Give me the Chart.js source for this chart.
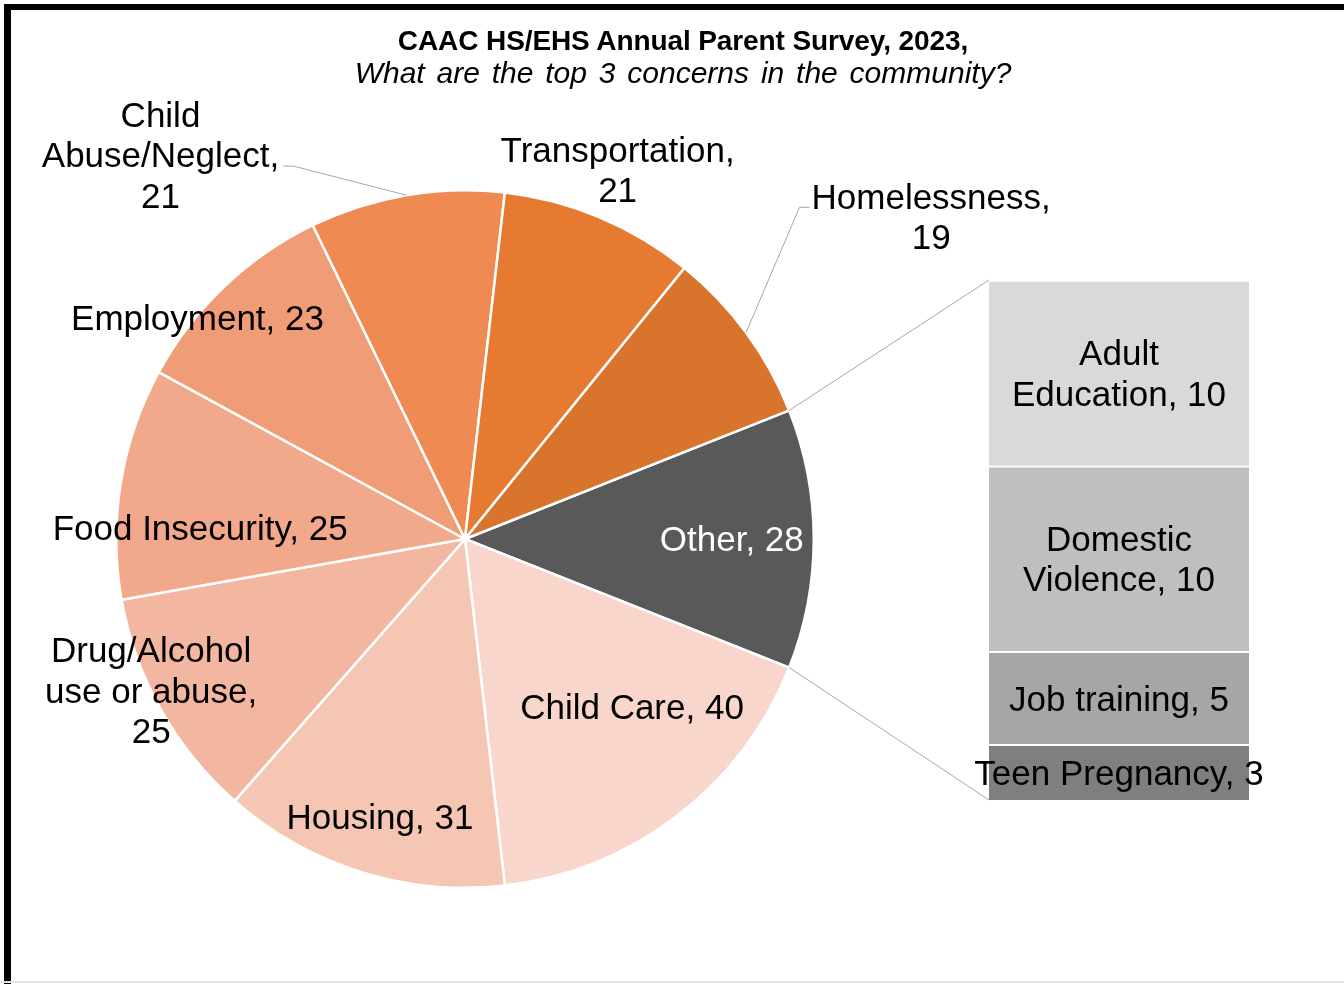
<!DOCTYPE html>
<html>
<head>
<meta charset="utf-8">
<script src="https://cdn.jsdelivr.net/npm/chart.js@4.4.1/dist/chart.umd.min.js"></script>
<style>
  html, body { margin: 0; padding: 0; background: #fff; overflow: hidden; }
  #frame { position: absolute; left: 4px; top: 4px; width: 1340px; height: 980px;
           border-top: 6px solid #000; border-left: 7px solid #000; box-sizing: border-box; }
  #floor { position: absolute; left: 0; top: 981px; width: 1344px; height: 2px; background: #e4e4e4; }
  canvas { position: absolute; left: 0; top: 0; }
  .title { position: absolute; left: 0; width: 1366px; text-align: center;
           font-family: "Liberation Sans", Arial, sans-serif; color: #000; white-space: nowrap; }
  #t1 { top: 25px; font-size: 28px; font-weight: bold; line-height: 32px; letter-spacing: -0.1px; }
  #t2 { top: 56px; font-size: 30px; font-style: italic; line-height: 34px; word-spacing: 3.5px; }
</style>
</head>
<body>
<div id="frame"></div>
<div id="floor"></div>
<canvas id="pie" width="1344" height="984"></canvas>
<canvas id="bar" width="1344" height="984"></canvas>
<div class="title" id="t1">CAAC HS/EHS Annual Parent Survey, 2023,</div>
<div class="title" id="t2">What are the top 3 concerns in the community?</div>
<script>
// main pie, clockwise from the "Other" slice
const categories = ["Other", "Child Care", "Housing", "Drug/Alcohol use or abuse", "Food Insecurity",
                    "Employment", "Child Abuse/Neglect", "Transportation", "Homelessness"];
const counts = [28, 40, 31, 25, 25, 23, 21, 21, 19];
const sliceColors = ["#595959", "#F8D6CB", "#F6C6B4", "#F3B6A1", "#F2A88A",
                     "#F09C76", "#EF8B52", "#E67A30", "#D9742D"];

// the "Other" slice split into the bar (bottom to top)
const otherCategories = ["Teen Pregnancy", "Job training", "Domestic Violence", "Adult Education"];
const otherCounts = [3, 5, 10, 10];
const otherColors = ["#7F7F7F", "#A6A6A6", "#BFBFBF", "#D9D9D9"];

const LABEL_FONT = '35px "Liberation Sans", Arial, sans-serif';
const LINE_H = 40.5;
const LINE_COLOR = "#A6A6A6";

// where each pie label sits: distance as share of radius, angle shift from slice middle (deg)
const piePlacement = [
  { dist: 0.765, shift: 0, color: "#fff" },
  { dist: 0.68, shift: -7.3 },
  { dist: 0.835, shift: -0.4 },
  { dist: 1.0, shift: 3.5, wrap: 250 },
  { dist: 0.76, shift: -6.9 },
  { dist: 0.994, shift: -6.85 },
  { dist: 1.404, shift: -28.8, wrap: 250, leader: { side: "right", dy: 10.5 } },
  { dist: 1.144, shift: -0.3, wrap: 250 },
  { dist: 1.624, shift: 1.7, wrap: 250, leader: { side: "left", dy: -10 } }
];
const barWrap = [null, null, 230, 230];

function wrapText(ctx, text, maxWidth) {
  if (!maxWidth) return [text];
  const words = text.split(" ");
  const lines = [];
  let line = words[0];
  for (let k = 1; k < words.length; k++) {
    const test = line + " " + words[k];
    if (ctx.measureText(test).width > maxWidth) {
      lines.push(line);
      line = words[k];
    } else {
      line = test;
    }
  }
  lines.push(line);
  return lines;
}

function drawBlock(ctx, lines, cx, cy, color) {
  ctx.fillStyle = color || "#000";
  const top = cy - (lines.length - 1) * LINE_H / 2;
  lines.forEach((l, k) => ctx.fillText(l, cx, top + k * LINE_H));
}

const pieLabels = {
  id: "pieLabels",
  afterDatasetsDraw(chart) {
    const ctx = chart.ctx;
    const meta = chart.getDatasetMeta(0);
    ctx.save();
    ctx.font = LABEL_FONT;
    ctx.textAlign = "center";
    ctx.textBaseline = "middle";
    meta.data.forEach((arc, i) => {
      const p = piePlacement[i];
      const mid = (arc.startAngle + arc.endAngle) / 2;
      const a = mid + p.shift * Math.PI / 180;
      const r = arc.outerRadius * p.dist;
      const cx = arc.x + Math.cos(a) * r;
      const cy = arc.y + Math.sin(a) * r;
      const lines = wrapText(ctx, categories[i] + ", " + counts[i], p.wrap);
      drawBlock(ctx, lines, cx, cy + 2, p.color);

      if (p.leader) {
        const w = Math.max(...lines.map(l => ctx.measureText(l).width));
        const sx = p.leader.side === "right" ? cx + w / 2 + 4 : cx - w / 2 - 2;
        const sy = cy + p.leader.dy;
        const kx = p.leader.side === "right" ? sx + 10 : sx - 10;
        ctx.beginPath();
        ctx.moveTo(sx, sy);
        ctx.lineTo(kx, sy);
        ctx.lineTo(arc.x + Math.cos(mid) * arc.outerRadius, arc.y + Math.sin(mid) * arc.outerRadius);
        ctx.strokeStyle = LINE_COLOR;
        ctx.lineWidth = 1;
        ctx.stroke();
      }
    });
    ctx.restore();
  }
};

const total = counts.reduce((s, v) => s + v, 0);

const pieChart = new Chart(document.getElementById("pie"), {
  type: "pie",
  data: {
    labels: categories,
    datasets: [{
      data: counts,
      backgroundColor: sliceColors,
      borderColor: "#fff",
      borderWidth: 2.5
    }]
  },
  options: {
    responsive: false,
    animation: false,
    rotation: 90 - (counts[0] / total * 360) / 2,
    layout: { padding: { left: 115, top: 189, right: 529, bottom: 95 } },
    plugins: { legend: { display: false }, tooltip: { enabled: false } }
  },
  plugins: [pieLabels]
});

// bar of the "Other" slice, with the two lines joining it to the pie
const barExtras = {
  id: "barExtras",
  afterDatasetsDraw(chart) {
    const ctx = chart.ctx;
    const arc = pieChart.getDatasetMeta(0).data[0];
    const topEl = chart.getDatasetMeta(otherCounts.length - 1).data[0];
    const botEl = chart.getDatasetMeta(0).data[0];
    const left = topEl.x - topEl.width / 2;
    ctx.save();
    ctx.strokeStyle = LINE_COLOR;
    ctx.lineWidth = 1;
    ctx.beginPath();
    ctx.moveTo(arc.x + Math.cos(arc.startAngle) * arc.outerRadius, arc.y + Math.sin(arc.startAngle) * arc.outerRadius);
    ctx.lineTo(left, topEl.y);
    ctx.moveTo(arc.x + Math.cos(arc.endAngle) * arc.outerRadius, arc.y + Math.sin(arc.endAngle) * arc.outerRadius);
    ctx.lineTo(left, botEl.base);
    ctx.stroke();

    ctx.font = LABEL_FONT;
    ctx.textAlign = "center";
    ctx.textBaseline = "middle";
    otherCounts.forEach((v, i) => {
      const el = chart.getDatasetMeta(i).data[0];
      const lines = wrapText(ctx, otherCategories[i] + ", " + v, barWrap[i]);
      drawBlock(ctx, lines, el.x, (el.y + el.base) / 2 + 3, "#000");
    });
    ctx.restore();
  }
};

new Chart(document.getElementById("bar"), {
  type: "bar",
  data: {
    labels: ["Other"],
    datasets: otherCategories.map((name, i) => ({
      label: name,
      data: [otherCounts[i]],
      backgroundColor: otherColors[i],
      borderColor: "#fff",
      borderWidth: { top: 2, bottom: 0, left: 0, right: 0 },
      borderSkipped: false,
      barPercentage: 1,
      categoryPercentage: 1
    }))
  },
  options: {
    responsive: false,
    animation: false,
    layout: { padding: { left: 989, right: 95, top: 280, bottom: 184 } },
    scales: {
      x: { display: false, stacked: true },
      y: { display: false, stacked: true, min: 0, max: otherCounts.reduce((s, v) => s + v, 0) }
    },
    plugins: { legend: { display: false }, tooltip: { enabled: false } }
  },
  plugins: [barExtras]
});
</script>
</body>
</html>
